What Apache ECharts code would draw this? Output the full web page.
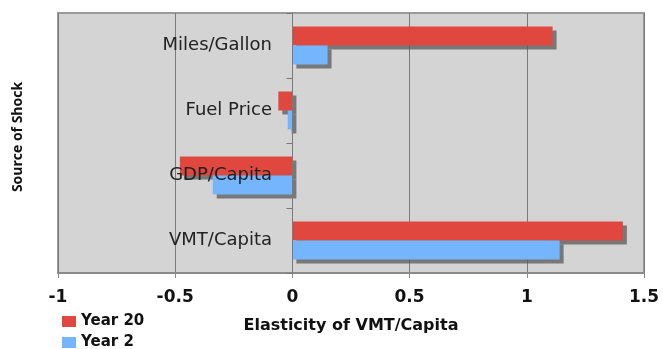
<!DOCTYPE html>
<html>
<head>
<meta charset="utf-8">
<script src="https://cdn.jsdelivr.net/npm/echarts@6/dist/echarts.min.js"></script>
<style>
  html, body { margin: 0; padding: 0; background: #ffffff; }
  #chart { width: 663px; height: 349px; }
</style>
</head>
<body>
<div id="chart"></div>
<script>
// Shock sources, listed bottom to top along the category axis
const categories = ['VMT/Capita', 'GDP/Capita', 'Fuel Price', 'Miles/Gallon'];
// Elasticity of VMT/Capita after 20 years and after 2 years
const year20 = [1.41, -0.48, -0.06, 1.11];
const year2 = [1.14, -0.34, -0.02, 0.15];
const seriesNames = ['Year 20', 'Year 2'];
const xTicks = { min: -1, max: 1.5, interval: 0.5 };

const RED = '#E0483F';
const BLUE = '#74B5FD';
const barShadow = {
  shadowColor: 'rgba(90,90,90,0.75)',
  shadowBlur: 0,
  shadowOffsetX: 4,
  shadowOffsetY: 4
};

const GRID_LEFT = 58;
// category names sit just left of the zero line, inside the plot
const LABEL_RIGHT_EDGE = 272;

const chart = echarts.init(document.getElementById('chart'), null, { renderer: 'canvas' });
chart.setOption({
  animation: false,
  backgroundColor: '#ffffff',
  grid: {
    left: GRID_LEFT, right: 19, top: 13, bottom: 76,
    outerBoundsMode: 'none',
    containLabel: false,
    show: true,
    backgroundColor: '#D4D4D4',
    borderColor: '#9A9A9A',
    borderWidth: 2
  },
  legend: {
    orient: 'vertical',
    left: 57,
    top: 309,
    height: 60,
    itemWidth: 14,
    itemHeight: 11,
    itemGap: 6,
    icon: 'rect',
    data: seriesNames,
    textStyle: { fontFamily: 'DejaVu Sans', fontWeight: 'bold', fontSize: 15, color: '#111' }
  },
  xAxis: {
    type: 'value',
    min: xTicks.min,
    max: xTicks.max,
    interval: xTicks.interval,
    name: 'Elasticity of VMT/Capita',
    nameLocation: 'middle',
    nameGap: 45,
    nameTextStyle: { fontFamily: 'DejaVu Sans', fontWeight: 'bold', fontSize: 16, color: '#111' },
    axisLine: { show: true, lineStyle: { color: '#8A8A8A', width: 2 } },
    axisTick: { show: true, length: 5, lineStyle: { color: '#8A8A8A' } },
    axisLabel: {
      margin: 16,
      fontFamily: 'DejaVu Sans', fontWeight: 'bold', fontSize: 17, color: '#111',
      formatter: v => String(v)
    },
    splitLine: { show: true, lineStyle: { color: '#7A7A7A', width: 1 } }
  },
  yAxis: {
    type: 'category',
    data: categories,
    z: 10,
    axisLine: { show: true, onZero: true, lineStyle: { color: '#7A7A7A', width: 1 } },
    axisTick: { show: true, length: 6, inside: false, lineStyle: { color: '#7A7A7A' } },
    axisLabel: {
      margin: GRID_LEFT - LABEL_RIGHT_EDGE,
      align: 'right',
      fontFamily: 'DejaVu Sans', fontSize: 18, color: '#222'
    },
    splitLine: { show: false }
  },
  graphic: [{
    type: 'text',
    x: 18,
    y: 137,
    rotation: Math.PI / 2,
    style: {
      text: 'Source of Shock',
      font: 'bold 14px "Open Sans"',
      fill: '#111',
      align: 'center',
      verticalAlign: 'middle'
    }
  }],
  series: [
    {
      name: 'Year 20',
      type: 'bar',
      data: year20,
      barWidth: 19,
      barGap: '0%',
      itemStyle: Object.assign({ color: RED }, barShadow)
    },
    {
      name: 'Year 2',
      type: 'bar',
      data: year2,
      barWidth: 19,
      barGap: '0%',
      itemStyle: Object.assign({ color: BLUE }, barShadow)
    }
  ]
});
</script>
</body>
</html>
